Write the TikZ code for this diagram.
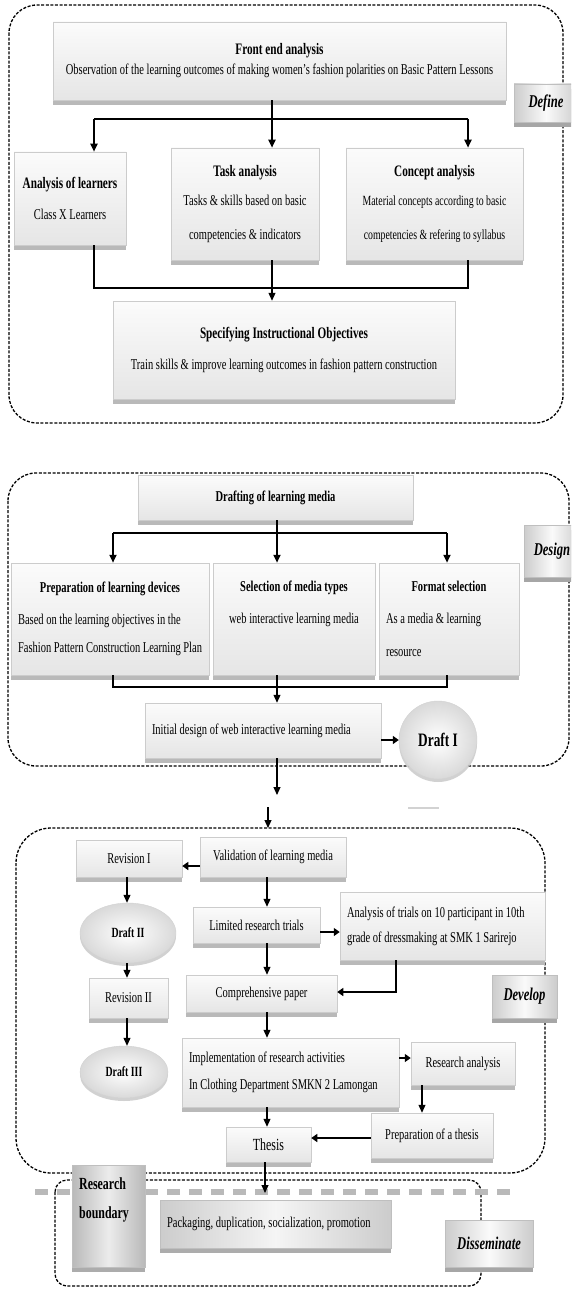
\documentclass[tikz,border=0pt]{standalone}
\usepackage{fontspec}
\setmainfont{Liberation Serif}[FakeStretch=0.7]
\usetikzlibrary{arrows.meta,shapes.geometric,shadows}
\newcommand\ttl[1]{{\fontsize{16}{18}\selectfont\bfseries #1}}
\tikzset{
 gbox/.style={draw=gray!40, line width=0.5pt, top color=gray!3, bottom color=gray!20,
   drop shadow={shadow xshift=0pt,shadow yshift=-5pt,fill=gray!55,opacity=1},
   inner sep=3pt, align=center, font=\fontsize{15}{18}\selectfont},
 leftbox/.style={gbox, align=flush left},
 dbox/.style={draw=gray!50, line width=0.5pt, left color=gray!40, right color=gray!40, middle color=gray!8,
   drop shadow={shadow xshift=0pt,shadow yshift=-5pt,fill=gray!65,opacity=1},
   inner sep=3pt, font=\fontsize{15}{18}\selectfont},
 lbl/.style={draw=gray!50, line width=0.5pt, left color=gray!40, right color=gray!40, middle color=gray!4,
   drop shadow={shadow xshift=0pt,shadow yshift=-5pt,fill=gray!70,opacity=1},
   font=\fontsize{18}{21}\selectfont\bfseries\itshape},
 draftshape/.style={ellipse, draw=gray!35, inner color=white, outer color=gray!30,
   drop shadow={shadow xshift=0pt,shadow yshift=-3pt,fill=gray!45,opacity=0.8},
   font=\fontsize{14}{17}\selectfont\bfseries},
 region/.style={draw=black, line width=1.3pt, dash pattern=on 3pt off 1.6pt},
 conn/.style={draw=black, line width=1.1pt},
 heavy/.style={draw=black, line width=2.4pt},
 arr/.style={-{Triangle[length=8pt,width=7pt]}},
 arrb/.style={-{Triangle[length=6pt,width=8pt]}}
}
\begin{document}
\begin{tikzpicture}[x=1pt,y=-1pt]
\useasboundingbox (0,0) rectangle (571,1289);
\clip (0,0) rectangle (571,1289);

% ================= DEFINE =================
\draw[region, rounded corners=28pt] (9,5) rectangle (563,423);
\node[gbox, minimum width=453pt, minimum height=78pt] (fe) at (279.5,61)
  {\ttl{Front end analysis}\\[2pt]Observation of the learning outcomes of making women's fashion polarities on Basic Pattern Lessons};
\node[lbl, minimum width=64pt, minimum height=38pt] (deflbl) at (546,103) {Define};
\node[gbox, minimum width=112pt, minimum height=93pt] (learn) at (70,198.5)
  {\ttl{Analysis of learners}\\[13pt]Class X Learners};
\node[gbox, minimum width=148pt, minimum height=112pt] (task) at (245,204)
  {\ttl{Task analysis}\\[11pt]Tasks \& skills based on basic\\[16pt]competencies \& indicators};
\node[gbox, minimum width=177pt, minimum height=112pt, font=\fontsize{14}{18}\selectfont] (concept) at (434.5,204)
  {\ttl{Concept analysis}\\[11pt]Material concepts according to basic\\[16pt]competencies \& refering to syllabus};
\node[gbox, minimum width=342pt, minimum height=98pt] (spec) at (284,350)
  {\ttl{Specifying Instructional Objectives}\\[13pt]Train skills \& improve learning outcomes in fashion pattern construction};

\coordinate (xA) at (272,0);
\coordinate (busL) at (94,119);
\coordinate (busR) at (468,119);
\coordinate (jL) at (94,288);
\coordinate (jR) at (468,288);
\draw[heavy] (busL) -- (busR);
\draw[heavy, arr] (fe.south -| xA) -- (task.north -| xA);
\draw[heavy, arr] (busL) -- (learn.north -| busL);
\draw[heavy, arr] (busR) -- (concept.north -| busR);
\draw[conn] (learn.south -| jL) -- (jL) -- (jR) -- (concept.south -| jR);
\draw[conn, arr] (task.south -| xA) -- (spec.north -| xA);

% ================= DESIGN =================
\draw[region, rounded corners=28pt] (8,473) rectangle (569,766);
\node[gbox, minimum width=275pt, minimum height=45pt] (draft) at (275.5,497.5)
  {\textbf{Drafting of learning media}};
\node[lbl, minimum width=56pt, minimum height=52pt] (deslbl) at (552,551) {Design};
\node[leftbox, minimum width=198pt, minimum height=112pt, text width=184pt] (prep) at (110,619)
  {\makebox[\linewidth][c]{\textbf{Preparation of learning devices}}\\[14pt]Based on the learning objectives in the\\[10pt]Fashion Pattern Construction Learning Plan};
\node[gbox, minimum width=162pt, minimum height=112pt] (sel) at (294,619)
  {\textbf{Selection of media types}\\[14pt]web interactive learning media\\[10pt]\strut};
\node[leftbox, minimum width=140pt, minimum height=112pt, text width=126pt] (fmt) at (449,619)
  {\makebox[\linewidth][c]{\textbf{Format selection}}\\[14pt]As a media \& learning\\[15pt]resource};
\node[leftbox, minimum width=236pt, minimum height=55pt, text width=222pt] (init) at (263,730.5)
  {Initial design of web interactive learning media};
\node[draftshape, circle, minimum size=78pt, font=\fontsize{19}{22}\selectfont\bfseries] (d1) at (438,740) {Draft I};

\coordinate (xD) at (277,0);
\coordinate (dbL) at (113,533);
\coordinate (dbR) at (447,533);
\coordinate (djL) at (113,687);
\coordinate (djR) at (447,687);
\draw[heavy] (dbL) -- (dbR);
\draw[heavy, arr] (draft.south -| xD) -- (sel.north -| xD);
\draw[heavy, arr] (dbL) -- (prep.north -| dbL);
\draw[heavy, arr] (dbR) -- (fmt.north -| dbR);
\draw[conn] (prep.south -| djL) -- (djL) -- (djR) -- (fmt.south -| djR);
\draw[conn, arr] (sel.south -| xD) -- (init.north -| xD);
\draw[heavy, arrb] (init.east |- d1.west) -- (d1.west);
\coordinate (gap1) at (277,795);
\coordinate (gap2) at (268,807);
\coordinate (devtop) at (268,828);
\draw[conn, arr] (init.south -| xD) -- (gap1);
\draw[conn, arr] (gap2) -- (devtop);
\draw[gray!35, line width=1.5pt] (408,808) -- (439,808);

% ================= DEVELOP =================
\draw[region, rounded corners=35pt] (16,828) rectangle (545,1173);
\node[lbl, minimum width=65pt, minimum height=43pt] (devlbl) at (524.5,996.5) {Develop};
\node[gbox, minimum width=146pt, minimum height=40pt] (val) at (273,857) {Validation of learning media};
\node[gbox, minimum width=106pt, minimum height=37pt] (rev1) at (129,858.5) {Revision I};
\node[draftshape, minimum width=96pt, minimum height=60pt] (d2) at (128,933) {Draft II};
\node[gbox, minimum width=79pt, minimum height=40pt] (rev2) at (128.5,998) {Revision II};
\node[draftshape, minimum width=88pt, minimum height=52pt] (d3) at (124,1072) {Draft III};
\node[gbox, minimum width=127pt, minimum height=36pt] (lim) at (256.5,925) {Limited research trials};
\node[leftbox, minimum width=205pt, minimum height=68pt, text width=191pt] (trial) at (442.5,926)
  {Analysis of trials on 10 participant in 10th\\[7pt]grade of dressmaking at SMK 1 Sarirejo};
\node[gbox, minimum width=151pt, minimum height=37pt] (comp) at (261.5,993.5) {Comprehensive paper};
\node[leftbox, minimum width=217pt, minimum height=69pt, text width=203pt] (impl) at (290.5,1072.5)
  {Implementation of research activities\\[9pt]In Clothing Department SMKN 2 Lamongan};
\node[gbox, minimum width=104pt, minimum height=43pt] (ra) at (463,1063.5) {Research analysis};
\node[gbox, minimum width=122pt, minimum height=45pt] (pt) at (432,1135.5) {Preparation of a thesis};
\node[gbox, minimum width=85pt, minimum height=35pt, font=\fontsize{17}{20}\selectfont] (thesis) at (268.5,1144.5) {Thesis};

\coordinate (yv) at (0,866);
\coordinate (xR) at (127,0);
\coordinate (xV) at (267,0);
\coordinate (yl) at (0,932);
\coordinate (cT) at (396,992);
\coordinate (ya) at (0,1058);
\coordinate (xP) at (422,0);
\coordinate (yt) at (0,1138);
\draw[heavy, arrb] (val.west |- yv) -- (rev1.east |- yv);
\draw[conn, arr] (rev1.south -| xR) -- (d2.north -| xR);
\draw[conn, arr] (d2.south -| xR) -- (rev2.north -| xR);
\draw[conn, arr] (rev2.south -| xR) -- (d3.north -| xR);
\draw[conn, arr] (val.south -| xV) -- (lim.north -| xV);
\draw[heavy, arrb] (lim.east |- yl) -- (trial.west |- yl);
\draw[heavy, arrb] (trial.south -| cT) -- (cT) -- (comp.east |- cT);
\draw[conn, arr] (lim.south -| xV) -- (comp.north -| xV);
\draw[conn, arr] (comp.south -| xV) -- (impl.north -| xV);
\draw[heavy, arrb] (impl.east |- ya) -- (ra.west |- ya);
\draw[conn, arr] (ra.south -| xP) -- (pt.north -| xP);
\draw[heavy, arrb] (pt.west |- yt) -- (thesis.east |- yt);
\draw[conn, arr] (impl.south -| xV) -- (thesis.north -| xV);

% ================= DISSEMINATE =================
\draw[region, rounded corners=12pt] (55,1180) rectangle (481,1286);
\draw[gray!55, line width=6pt, dash pattern=on 13pt off 9pt] (35,1192) -- (517,1192);
\coordinate (bnd) at (265,1193);
\draw[conn, arr] (thesis.south -| bnd) -- (bnd);
\node[dbox, minimum width=73pt, minimum height=102pt, left color=gray!55, right color=gray!55, middle color=gray!15] (rb) at (108.5,1216) {};
\node[anchor=north west, align=left, inner sep=0pt, font=\fontsize{17}{20}\selectfont\bfseries] (rbt) at (79,1177) {Research\\[9pt]boundary};
\node[dbox, minimum width=231pt, minimum height=48pt, text width=217pt, align=flush left] (pack) at (275.5,1224)
  {Packaging, duplication, socialization, promotion};
\node[lbl, minimum width=88pt, minimum height=47pt] (dislbl) at (489,1243.5) {Disseminate};
\end{tikzpicture}
\end{document}
